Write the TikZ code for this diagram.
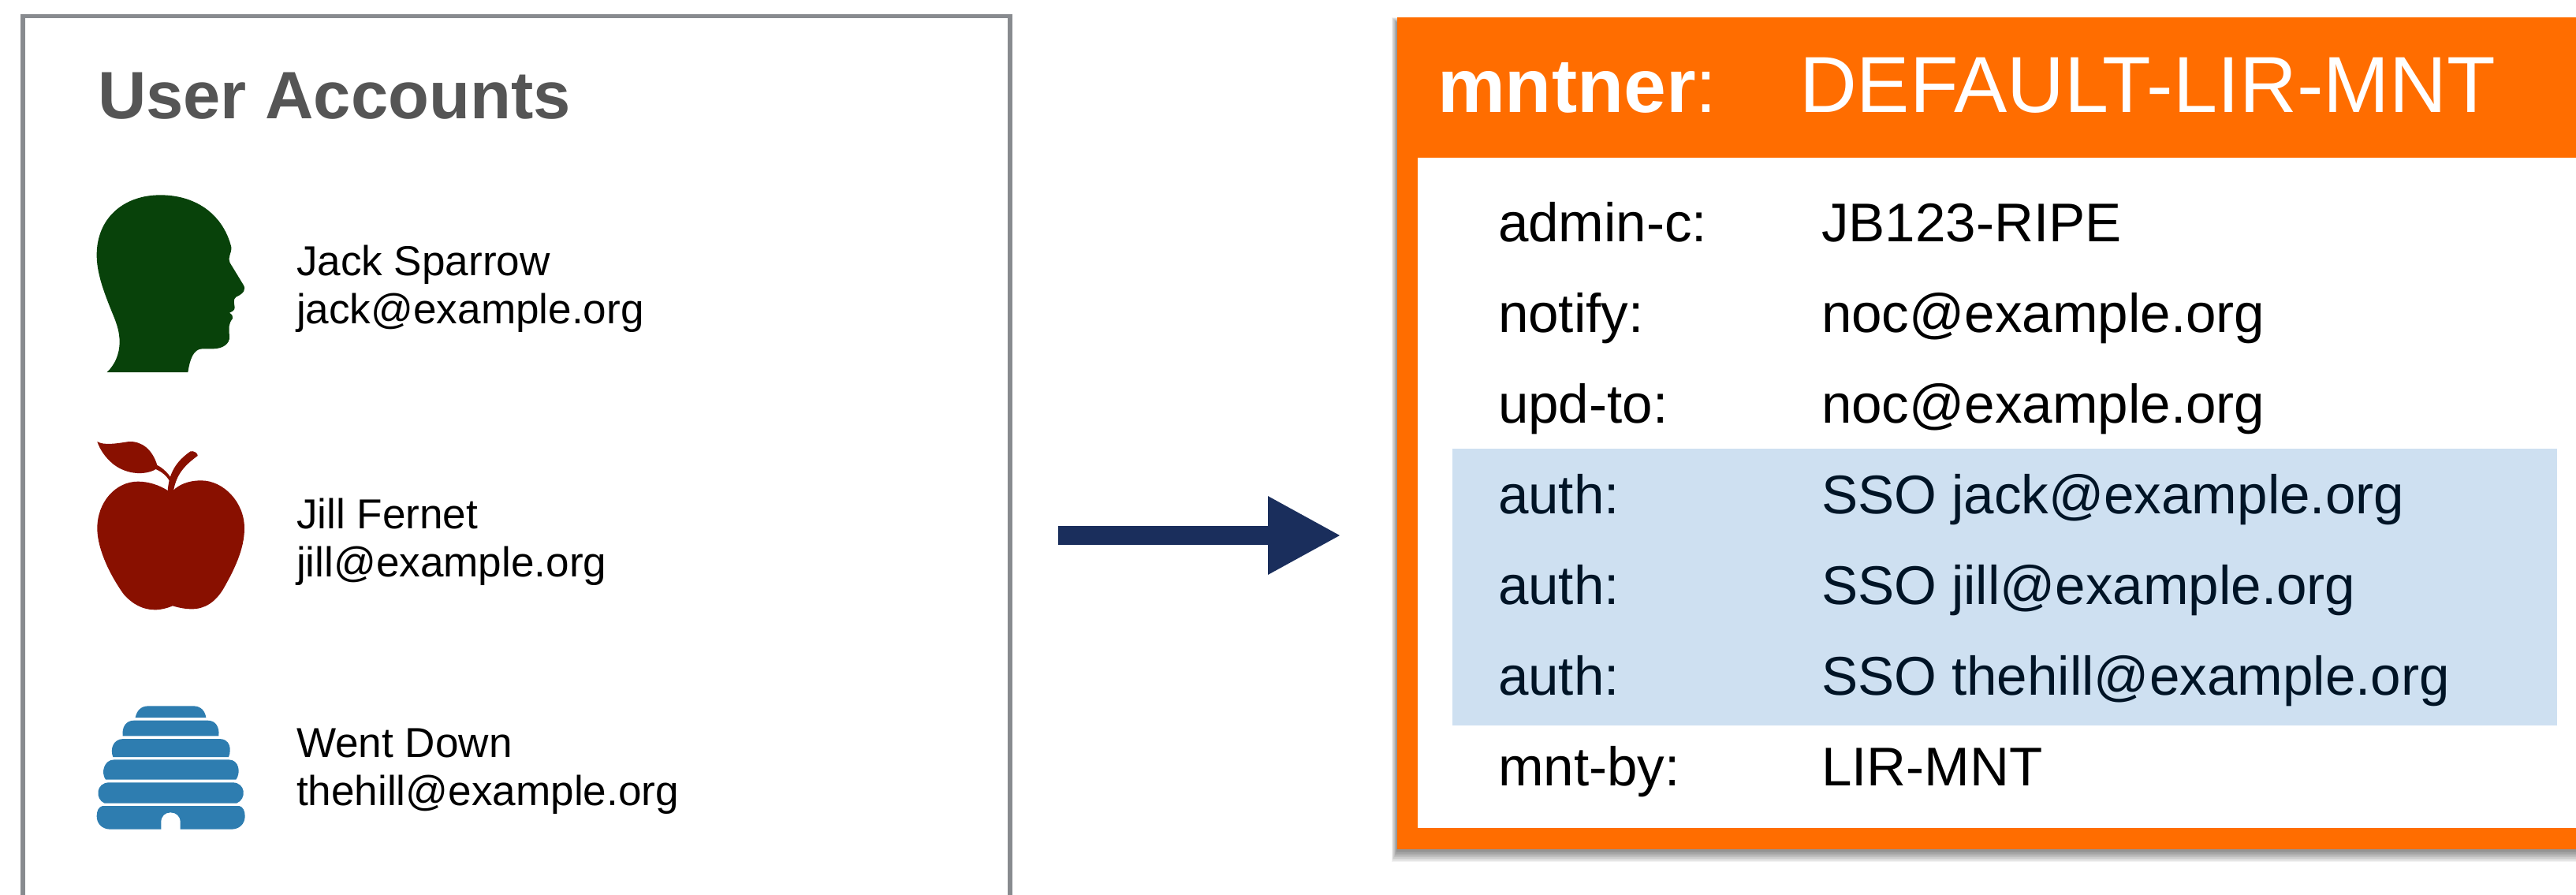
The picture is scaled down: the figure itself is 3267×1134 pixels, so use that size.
\documentclass[tikz,border=0pt]{standalone}
\usepackage{fontspec}
\setmainfont{Liberation Sans}
\usetikzlibrary{arrows.meta}
\definecolor{boxgray}{HTML}{888B8F}
\definecolor{titlegray}{HTML}{555555}
\definecolor{mntorange}{HTML}{FF6D00}
\definecolor{arrownavy}{HTML}{1A2E5C}
\definecolor{authblue}{HTML}{CEE0F1}
\definecolor{authink}{HTML}{001426}
\definecolor{headgreen}{HTML}{08420A}
\definecolor{applered}{HTML}{891000}
\definecolor{hiveblue}{HTML}{2E7DB0}
\tikzset{
  txt/.style={inner sep=0pt,outer sep=0pt,anchor=base west},
  titletxt/.style={txt,text=titlegray,font=\fontsize{20.4}{24}\selectfont\bfseries},
  persontxt/.style={txt,text=black,font=\fontsize{12.75}{15}\selectfont},
  headtxt/.style={txt,text=white,font=\fontsize{23.2}{28}\selectfont},
  nametxt/.style={txt,text=white,font=\fontsize{24.2}{28}\selectfont},
  rowtxt/.style={txt,text=black,font=\fontsize{16.6}{19}\selectfont},
  authtxt/.style={rowtxt,text=authink},
  icon/.style={shift={(#1)},x=.08pt,y=-.08pt},
}
\begin{document}
\begin{tikzpicture}[x=.24pt,y=-.24pt]
\clip (0,0) rectangle (3267,1134);
\fill[white] (0,0) rectangle (3267,1134);
% left panel
\draw[boxgray,line width=1.4pt] (29,1160) -- (29,20.5) -- (1281,20.5) -- (1281,1160);
\node[titletxt] (title) at (124,150) {User Accounts};
% head
\begin{scope}[icon={60,200}]
\fill[headgreen] (227,816) .. controls (255,790) and (275,750) .. (275,700)
  .. controls (275,660) and (262,625) .. (245,585)
  .. controls (215,510) and (188,440) .. (188,370)
  .. controls (188,230) and (290,142) .. (430,142)
  .. controls (570,142) and (670,220) .. (700,340)
  .. controls (702,365) and (685,375) .. (695,400)
  -- (745,482) .. controls (757,500) and (750,515) .. (718,530)
  .. controls (705,540) and (712,555) .. (713,570)
  .. controls (713,582) and (703,585) .. (693,590)
  .. controls (703,597) and (708,603) .. (705,612)
  .. controls (690,630) and (690,645) .. (693,680)
  .. controls (695,710) and (665,727) .. (630,727)
  -- (590,727) .. controls (555,727) and (542,770) .. (535,816) -- cycle;
\end{scope}
\node[persontxt] (jackname) at (376,349) {Jack Sparrow};
\node[persontxt] (jackmail) at (376,410) {jack@example.org};
% apple
\begin{scope}[icon={60,520}]
\fill[applered] (460,307) .. controls (425,285) and (385,272) .. (345,272)
  .. controls (260,272) and (190,350) .. (190,450)
  .. controls (190,530) and (240,630) .. (290,700)
  .. controls (325,740) and (365,760) .. (410,760)
  .. controls (435,760) and (460,752) .. (477,745)
  .. controls (500,752) and (525,757) .. (550,757)
  .. controls (600,757) and (640,730) .. (670,680)
  .. controls (710,610) and (750,530) .. (750,450)
  .. controls (750,350) and (670,268) .. (585,268)
  .. controls (535,268) and (500,285) .. (480,305) -- cycle;
\fill[applered] (458,310) .. controls (462,240) and (490,195) .. (545,157)
  .. controls (555,153) and (575,165) .. (572,174)
  .. controls (530,205) and (490,240) .. (480,310) -- cycle;
\fill[applered] (190,120) .. controls (215,135) and (260,128) .. (310,120)
  .. controls (360,118) and (400,150) .. (418,210)
  .. controls (435,217) and (460,240) .. (470,258) -- (466,272)
  .. controls (455,250) and (435,235) .. (413,225)
  .. controls (370,250) and (300,245) .. (250,205)
  .. controls (220,180) and (200,150) .. (190,120) -- cycle;
\end{scope}
\node[persontxt] (jillname) at (376,670) {Jill Fernet};
\node[persontxt] (jillmail) at (376,731) {jill@example.org};
% hive
\begin{scope}[icon={60,830}]
\fill[hiveblue] (335,240) .. controls (340,215) and (355,196) .. (385,196) -- (555,196) .. controls (585,196) and (600,215) .. (604,240) -- cycle;
\fill[hiveblue] (287,310) .. controls (283,275) and (300,251) .. (330,251) -- (610,251) .. controls (640,251) and (656,275) .. (652,310) -- cycle;
\fill[hiveblue] (250,390) .. controls (238,360) and (250,321) .. (290,321) -- (655,321) .. controls (695,321) and (702,360) .. (690,390) -- cycle;
\fill[hiveblue] (222,476) .. controls (203,450) and (215,400) .. (255,400) -- (690,400) .. controls (730,400) and (737,450) .. (718,476) -- cycle;
\fill[hiveblue] (218,566) .. controls (180,550) and (185,487) .. (235,487) -- (705,487) .. controls (755,487) and (760,550) .. (720,566) -- cycle;
\fill[hiveblue] (210,576) -- (730,576) .. controls (745,580) and (752,595) .. (752,615)
  .. controls (752,645) and (730,665) .. (700,665) -- (506,665) -- (506,637)
  .. controls (506,615) and (490,601) .. (469,601)
  .. controls (448,601) and (433,615) .. (433,637) -- (433,665) -- (240,665)
  .. controls (210,665) and (188,645) .. (188,615)
  .. controls (188,595) and (195,580) .. (210,576) -- cycle;
\end{scope}
\node[persontxt] (wentname) at (376,960) {Went Down};
\node[persontxt] (wentmail) at (376,1021) {thehill@example.org};
% arrow
\coordinate (arrowfrom) at (1342,679);
\coordinate (arrowto) at (1701,679);
\draw[arrownavy,line width=5.76pt,-{Triangle[length=22.3pt,width=22.2pt]}] (arrowfrom) -- (arrowto);
% soft shadow
\foreach \r in {1,...,10}{
  \fill[black,opacity=.05] ({1772-.7*\r},{29-.7*\r}) rectangle (3300,{1078+1.5*\r});
}
% mntner panel
\fill[mntorange] (1772,22) rectangle (3300,1077);
\fill[white] (1798,200) rectangle (3300,1050);
\fill[authblue] (1842,569) rectangle (3243,920);
\node[headtxt,font=\fontsize{23.2}{28}\selectfont\bfseries] (mntkey) at (1823,142) {mntner};
\node[headtxt] (mntcolon) at (mntkey.base east) {:};
\node[nametxt] (mntname) at (2282,142) {DEFAULT-LIR-MNT};
\node[rowtxt] (k1) at (1900,306) {admin-c:};
\node[rowtxt] (v1) at (2310,306) {JB123-RIPE};
\node[rowtxt] (k2) at (1900,421) {notify:};
\node[rowtxt] (v2) at (2310,421) {noc@example.org};
\node[rowtxt] (k3) at (1900,536) {upd-to:};
\node[rowtxt] (v3) at (2310,536) {noc@example.org};
\node[authtxt] (k4) at (1900,651) {auth:};
\node[authtxt] (v4) at (2310,651) {SSO jack@example.org};
\node[authtxt] (k5) at (1900,766) {auth:};
\node[authtxt] (v5) at (2310,766) {SSO jill@example.org};
\node[authtxt] (k6) at (1900,881) {auth:};
\node[authtxt] (v6) at (2310,881) {SSO thehill@example.org};
\node[rowtxt] (k7) at (1900,996) {mnt-by:};
\node[rowtxt] (v7) at (2310,996) {LIR-MNT};
\end{tikzpicture}
\end{document}
